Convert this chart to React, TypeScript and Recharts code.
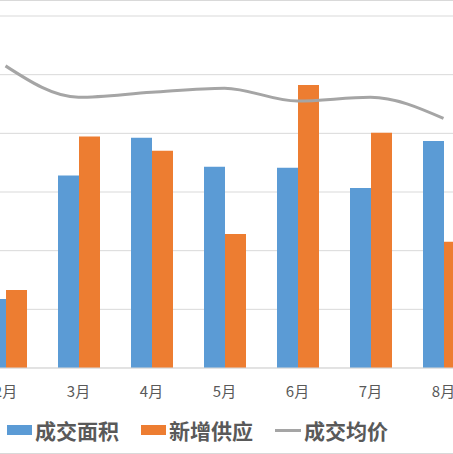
import React from 'react';
import { ComposedChart, Bar, Line, XAxis, YAxis, CartesianGrid } from 'recharts';

// months visible in the cropped chart
const months = ['2月', '3月', '4月', '5月', '6月', '7月', '8月'];
// values (one gridline step = 20)
const dealArea = [23.5, 65.6, 78.5, 68.6, 68.3, 61.4, 77.4];
const newSupply = [26.6, 78.9, 74.1, 45.7, 96.5, 80.2, 43.0];
const avgPrice = [103, 92.3, 94.0, 95.4, 91.0, 92.3, 85.1];
const yTicks = [0, 20, 40, 60, 80, 100, 120];

const series = [
  { key: 'area', name: '成交面积', color: '#5B9BD5', kind: 'bar' },
  { key: 'supply', name: '新增供应', color: '#ED7D31', kind: 'bar' },
  { key: 'price', name: '成交均价', color: '#A5A5A5', kind: 'line' },
];

const data = months.map((m, i) => ({
  month: m,
  area: dealArea[i],
  supply: newSupply[i],
  price: avgPrice[i],
}));

const FONT = '"Noto Sans CJK SC", "Noto Sans", sans-serif';

function ChartLegend() {
  return (
    <div
      style={{
        position: 'absolute',
        left: 7,
        top: 416,
        display: 'flex',
        alignItems: 'center',
        fontFamily: FONT,
        fontSize: 21,
        fontWeight: 700,
        color: '#595959',
        lineHeight: '26px',
      }}
    >
      {series.map((s) => (
        <div key={s.key} style={{ display: 'flex', alignItems: 'center', marginRight: 22 }}>
          {s.kind === 'bar' ? (
            <div style={{ width: 25, height: 10, background: s.color, marginRight: 3 }} />
          ) : (
            <div style={{ width: 26, height: 3, background: s.color, marginRight: 3 }} />
          )}
          <span>{s.name}</span>
        </div>
      ))}
    </div>
  );
}

export default function App() {
  return (
    <div
      style={{
        position: 'absolute',
        left: 0,
        top: 0,
        width: 453,
        height: 454,
        overflow: 'hidden',
        background: '#fff',
        borderTop: '1px solid #d9d9d9',
        borderBottom: '1px solid #d9d9d9',
        boxSizing: 'border-box',
      }}
    >
      <div style={{ position: 'absolute', left: -31, top: -1 }}>
        <ComposedChart
          width={511}
          height={400}
          data={data}
          margin={{ top: 16, right: 0, bottom: 2, left: 0 }}
          barGap={0}
        >
          <CartesianGrid vertical={false} stroke="#d9d9d9" />
          <XAxis
            dataKey="month"
            height={30}
            axisLine={{ stroke: '#d9d9d9' }}
            tickLine={false}
            tickSize={6}
            tickMargin={12}
            tick={{ fill: '#595959', fontSize: 15, fontFamily: FONT }}
            interval={0}
          />
          <YAxis hide domain={[0, 120]} ticks={yTicks} />
          <Bar dataKey="area" name="成交面积" fill="#5B9BD5" barSize={21} isAnimationActive={false} />
          <Bar dataKey="supply" name="新增供应" fill="#ED7D31" barSize={21} isAnimationActive={false} />
          <Line
            type="monotone"
            dataKey="price"
            name="成交均价"
            stroke="#A5A5A5"
            strokeWidth={3}
            dot={false}
            isAnimationActive={false}
          />
        </ComposedChart>
      </div>
      <ChartLegend />
    </div>
  );
}
